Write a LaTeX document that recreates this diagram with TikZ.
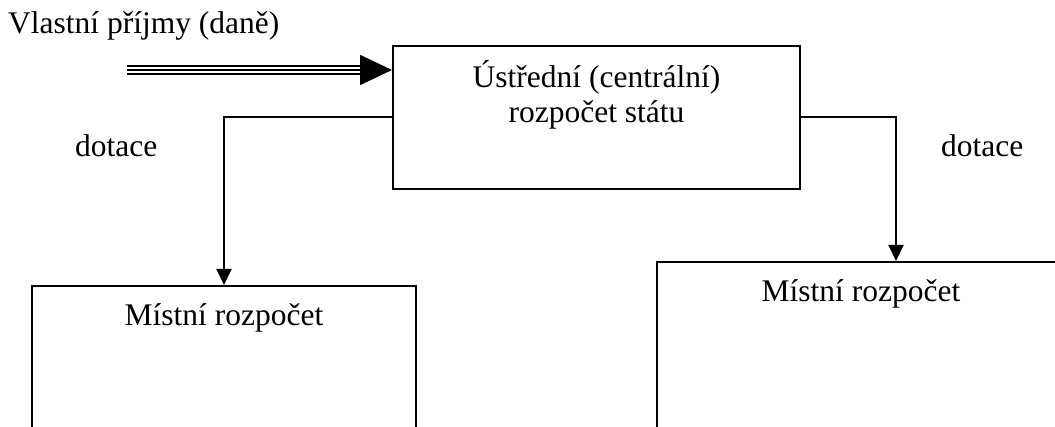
\documentclass[tikz,border=0pt]{standalone}
\usepackage{fontspec}
\setmainfont{Liberation Serif}
\usetikzlibrary{arrows.meta,calc}
\begin{document}
\begin{tikzpicture}[x=1pt,y=-1pt,
  every node/.style={font=\fontsize{31.5}{36}\selectfont, inner sep=0pt},
  box/.style={draw, line width=2pt, rectangle, inner sep=0pt},
  conn/.style={line width=2pt, -{Triangle[length=16pt,width=15pt]}},
  tripleline/.style={line width=1.7pt},
]
\useasboundingbox (0,0) rectangle (1055,427);
\clip (0,0) rectangle (1055,427);

% boxes
\node[box, minimum width=407pt, minimum height=143pt] (cbox) at (596.5,117.5) {};
\node[box, minimum width=384pt, minimum height=200pt] (lbox) at (224,386) {};
\node[box, minimum width=408pt, minimum height=200pt] (rbox) at (861,362) {};

% box texts
\node[anchor=base] (ctext1) at ($(cbox.north)+(0,43)$) {Ústřední (centrální)};
\node[anchor=base] (ctext2) at ($(cbox.north)+(0,78)$) {rozpočet státu};
\node[anchor=base] (ltext) at ($(lbox.north)+(0,41)$) {Místní rozpočet};
\node[anchor=base] (rtext) at ($(rbox.north)+(0,41)$) {Místní rozpočet};

% labels
\node[anchor=base west] (srclabel) at (8,34) {Vlastní příjmy (daně)};
\node[anchor=base west] (dl) at (75,157) {dotace};
\node[anchor=base west] (dr) at (941,157) {dotace};

% triple arrow
\coordinate (src) at (127,70);
\draw[tripleline, -{Triangle[length=32pt,width=30pt]}] (src) -- (src -| cbox.west);
\draw[tripleline, shorten >=32pt] ($(src)+(0,-4.3)$) -- ($(src -| cbox.west)+(0,-4.3)$);
\draw[tripleline, shorten >=32pt] ($(src)+(0,4.3)$) -- ($(src -| cbox.west)+(0,4.3)$);

% connectors
\draw[conn] (cbox.west) -| (lbox.north);
\coordinate (rin) at (896,261);
\draw[conn] (cbox.east) -| (rin);
\end{tikzpicture}
\end{document}
